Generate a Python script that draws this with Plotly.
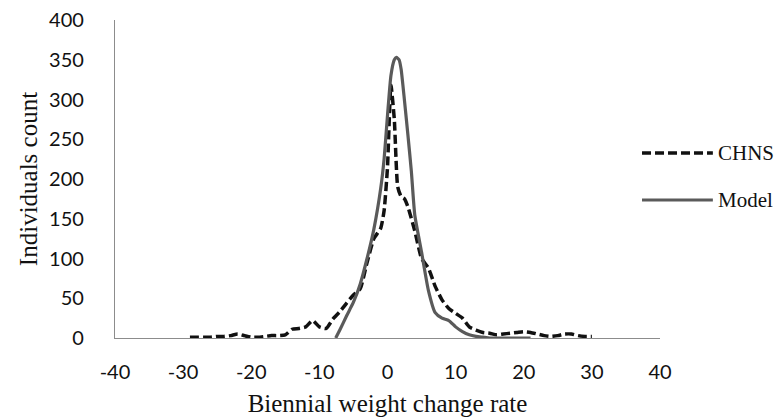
import plotly.graph_objects as go

# CHNS (dashed) observed distribution
chns_x = [-29, -28, -27, -26, -25, -24, -23, -22, -21, -20, -19, -18, -17, -16, -15,
          -14, -13, -12, -11, -10, -9, -8, -7, -6, -5, -4, -3, -2, -1, -0.5, 0, 0.5,
          1, 1.5, 2, 2.5, 3, 4, 5, 6, 7, 8, 9, 10, 11, 12, 13, 14, 15, 16, 17, 18, 19,
          20, 21, 22, 23, 24, 25, 26, 27, 28, 29, 30]
chns_y = [1, 1, 1, 1, 2, 2, 3, 5, 3, 1, 1, 2, 3, 3, 4,
          11, 12, 14, 22, 14, 12, 24, 33, 44, 54, 62, 95, 125, 138, 160, 215, 318,
          275, 190, 178, 175, 165, 135, 100, 88, 65, 48, 37, 31, 25, 14, 10, 7, 6, 4, 5, 6, 7,
          8, 7, 5, 3, 2, 3, 5, 5, 3, 2, 2]

# Model (solid) distribution
model_x = [-7.6, -7, -6, -5, -4, -3, -2, -1, -0.5, 0, 0.5, 1, 1.3, 1.7, 2, 2.5, 3, 3.5,
           4, 5, 6, 7, 8, 9, 10, 11, 12, 13, 14, 15, 16, 17, 18, 19, 20, 21]
model_y = [0, 10, 28, 45, 68, 100, 137, 188, 225, 280, 330, 350, 353, 350, 338, 298, 255, 210,
           155, 108, 60, 32, 25, 22, 14, 8, 4, 2, 1, 0, 0, 0, 0, 0, 0, 0]

x_ticks = [-40, -30, -20, -10, 0, 10, 20, 30, 40]
x_tick_labels = ["-40", "-30", "-20", "-10", "0", "10", "20", "30", "40"]
y_ticks = [0, 50, 100, 150, 200, 250, 300, 350, 400]
y_tick_labels = ["0", "50", "100", "150", "200", "250", "300", "350", "400"]

series_names = ["CHNS", "Model"]
series_colors = ["#111111", "#5a5a5a"]
series_widths = [3.5, 3.2]
series_dash = ["9px,4px", "solid"]

fig = go.Figure()
fig.add_trace(go.Scatter(
    x=chns_x, y=chns_y, mode="lines", name=series_names[0], showlegend=False,
    line=dict(color=series_colors[0], width=series_widths[0], dash=series_dash[0],
              shape="spline", smoothing=0.5),
))
fig.add_trace(go.Scatter(
    x=model_x, y=model_y, mode="lines", name=series_names[1], showlegend=False,
    line=dict(color=series_colors[1], width=series_widths[1], dash=series_dash[1],
              shape="spline", smoothing=0.5),
))

# Legend drawn in paper coordinates (long sample lines like the original)
legend_y = [0.582, 0.434]
for name, col, w, d, ly in zip(series_names, series_colors, series_widths, series_dash, legend_y):
    fig.add_shape(type="line", xref="paper", yref="paper",
                  x0=0.967, x1=1.097, y0=ly, y1=ly,
                  line=dict(color=col, width=w, dash=d))
    fig.add_annotation(text=name, xref="paper", yref="paper", x=1.103, y=ly,
                       xanchor="left", yanchor="middle", showarrow=False,
                       font=dict(family="Liberation Serif", size=21, color="#111"))

fig.update_layout(
    width=780, height=417,
    margin=dict(l=115, r=120, t=20, b=79),
    paper_bgcolor="white", plot_bgcolor="white",
    showlegend=False,
    xaxis=dict(
        range=[-40, 40], tickvals=x_ticks, ticktext=x_tick_labels,
        showgrid=False, zeroline=False,
        showline=True, linecolor="#8c8c8c", linewidth=1.2, ticks="",
        automargin=False, ticklabelstandoff=16, ticklabeloverflow="allow",
        tickfont=dict(family="Lato", size=20, color="#111"),
        title=dict(text="Biennial weight change rate",
                   font=dict(family="Liberation Serif", size=25, color="#111"), standoff=13),
    ),
    yaxis=dict(
        range=[0, 400], tickvals=y_ticks, ticktext=y_tick_labels,
        showgrid=False, zeroline=False,
        showline=True, linecolor="#8c8c8c", linewidth=1.2, ticks="",
        automargin=False, ticklabelstandoff=26, ticklabeloverflow="allow",
        tickfont=dict(family="Lato", size=20, color="#111"),
        title=dict(text="Individuals count",
                   font=dict(family="Liberation Serif", size=25, color="#111"), standoff=4),
    ),
)

fig.write_html("out.html", config={"displayModeBar": False},
               post_script="document.body.style.margin='0';")
